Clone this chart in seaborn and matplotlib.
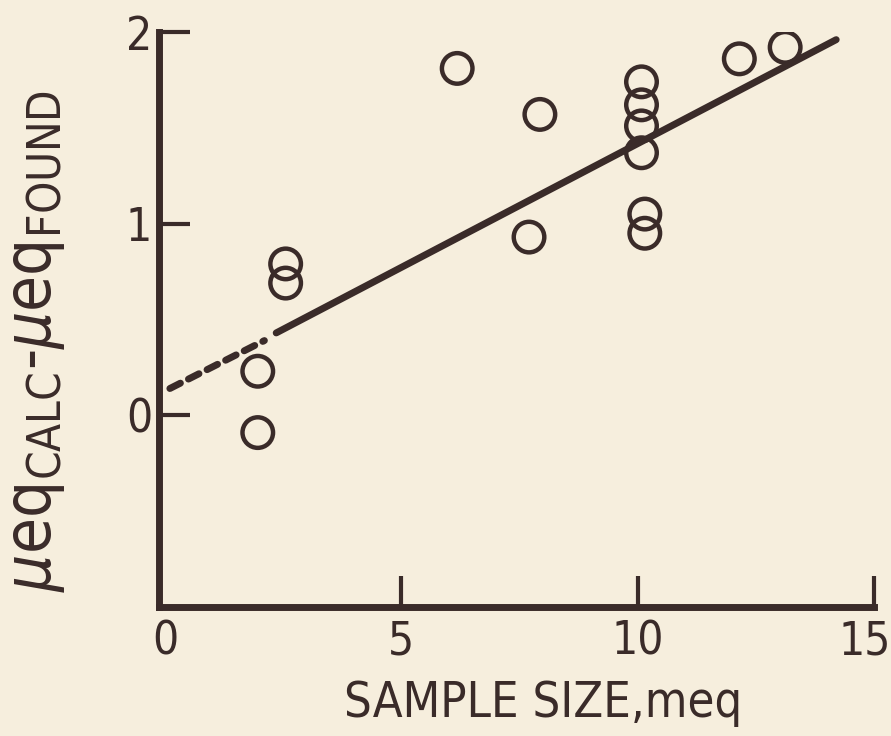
import matplotlib
matplotlib.use("Agg")
import matplotlib.pyplot as plt
import matplotlib.transforms as mtransforms
from matplotlib.font_manager import FontProperties
import seaborn as sns
import pandas as pd

# ---- data ----
sample_size = [1.96, 1.96, 2.55, 2.55, 6.18, 7.93, 7.70,
               10.08, 10.08, 10.08, 10.08, 10.15, 10.15, 12.15, 13.12]
difference = [-0.09, 0.23, 0.79, 0.69, 1.81, 1.57, 0.93,
              1.74, 1.62, 1.51, 1.37, 1.05, 0.95, 1.86, 1.92]

fit_dashed_x = [0.1, 2.1]
fit_dashed_y = [0.14, 0.39]
fit_solid_x = [2.35, 14.2]
fit_solid_y = [0.43, 1.96]

x_ticks = [0, 5, 10, 15]
x_ticklabels = ["0", "5", "10", "15"]
y_ticks = [0, 1, 2]
y_ticklabels = ["0", "1", "2"]

BG = "#f6eedd"
INK = "#3a2b29"

sns.set_theme(style="ticks")
plt.rcParams["font.family"] = ["DejaVu Sans"]
plt.rcParams["font.stretch"] = "condensed"
plt.rcParams["mathtext.fontset"] = "custom"
plt.rcParams["mathtext.rm"] = "DejaVu Sans:stretch=condensed"
plt.rcParams["mathtext.it"] = "DejaVu Sans:stretch=condensed:style=oblique"
plt.rcParams["mathtext.bf"] = "DejaVu Sans:stretch=condensed:weight=bold"

fig = plt.figure(figsize=(8.91, 7.36), dpi=100, facecolor=BG)
ax = fig.add_axes([159 / 891, 1 - 607 / 736, (874 - 159) / 891, (607 - 32) / 736])
ax.set_facecolor(BG)

pts = pd.DataFrame({"x": sample_size, "y": difference})
sns.scatterplot(data=pts, x="x", y="y", ax=ax, s=22 ** 2, marker="o",
                facecolor="none", edgecolor=INK, linewidth=3.2, zorder=3)

solid = pd.DataFrame({"x": fit_solid_x, "y": fit_solid_y})
sns.lineplot(data=solid, x="x", y="y", ax=ax, color=INK, linewidth=5,
             solid_capstyle="round", zorder=2)
dashed = pd.DataFrame({"x": fit_dashed_x, "y": fit_dashed_y})
sns.lineplot(data=dashed, x="x", y="y", ax=ax, color=INK, linewidth=5,
             zorder=2)
ax.lines[-1].set_dashes((1.7, 1.3))
ax.lines[-1].set_dash_capstyle("round")

ax.set_xlim(-0.13, 15)
ax.set_ylim(-1, 2)
ax.set_xticks(x_ticks)
ax.set_xticklabels(x_ticklabels)
ax.set_yticks(y_ticks)
ax.set_yticklabels(y_ticklabels)

for s in ["top", "right"]:
    ax.spines[s].set_visible(False)
for s in ["left", "bottom"]:
    ax.spines[s].set_linewidth(5)
    ax.spines[s].set_color(INK)
    ax.spines[s].set_capstyle("projecting")

tick_fp = FontProperties(family="DejaVu Sans", stretch="condensed", size=33)
ax.tick_params(axis="both", direction="in", length=22, width=3, color=INK,
               labelcolor=INK)
ax.tick_params(axis="x", pad=9)
ax.tick_params(axis="y", pad=5)
for lab in ax.get_xticklabels() + ax.get_yticklabels():
    lab.set_fontproperties(tick_fp)
# no tick mark drawn at the origin corner
ax.xaxis.get_major_ticks()[0].tick1line.set_visible(False)
# keep the last label inside the figure, as in the reference
last = ax.get_xticklabels()[-1]
last.set_transform(last.get_transform() +
                   mtransforms.ScaledTranslation(-9 / 100, 0, fig.dpi_scale_trans))

ax.set_xlabel("SAMPLE SIZE,meq", fontsize=35, color=INK,
              fontstretch="condensed")
ax.xaxis.set_label_coords(0.537, -0.126)
ax.set_ylabel(r"$\mu$eq$_{\mathrm{CALC}}$-$\mu$eq$_{\mathrm{FOUND}}$",
              fontsize=47, color=INK, fontstretch="condensed")
ax.yaxis.set_label_coords(-0.128, 0.462)

fig.savefig("out.png", dpi=100, facecolor=BG)
